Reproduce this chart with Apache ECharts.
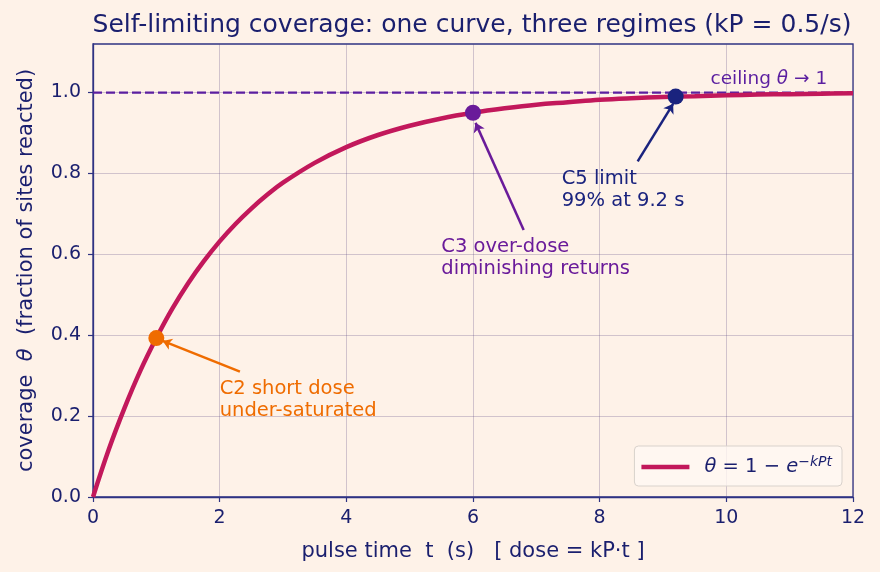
<!DOCTYPE html>
<html>
<head>
<meta charset="utf-8">
<script src="https://cdn.jsdelivr.net/npm/echarts@6/dist/echarts.min.js"></script>
<style>
  html, body { margin: 0; padding: 0; background: #fef2e8; }
  #chart { width: 880px; height: 572px; }
</style>
</head>
<body>
<div id="chart"></div>
<script>
// pulse time (s) and coverage
const pulseTimes = [0, 0.25, 0.5, 0.75, 1, 1.25, 1.5, 1.75, 2, 2.25, 2.5, 2.75, 3, 3.5, 4, 4.5, 5, 5.5, 6, 6.5, 7, 7.5, 8, 8.5, 9, 9.5, 10, 10.5, 11, 11.5, 12];
const coverage = [0, 0.118, 0.221, 0.313, 0.393, 0.465, 0.528, 0.583, 0.632, 0.675, 0.713, 0.747, 0.777, 0.826, 0.865, 0.895, 0.918, 0.936, 0.950, 0.961, 0.970, 0.976, 0.982, 0.986, 0.989, 0.991, 0.993, 0.995, 0.996, 0.997, 0.998];

// highlighted regimes
const regimeNames = ["C2", "C3", "C5"];
const regimeTimes = [1, 6, 9.2];
const regimeCoverage = [0.393, 0.950, 0.990];
const regimeColors = ["#ef6c00", "#6a1b9a", "#1a237e"];
const regimeText = ["C2 short dose\nunder-saturated", "C3 over-dose\ndiminishing returns", "C5 limit\n99% at 9.2 s"];
const textAnchors = [[2.0, 0.186], [5.5, 0.536], [7.4, 0.704]];
const arrowTails = [[2.32, 0.31], [6.8, 0.66], [8.6, 0.83]];
const arrowTips = [[1.1, 0.386], [6.04, 0.925], [9.16, 0.972]];

const ceiling = 1.0;
const xTicks = [0, 2, 4, 6, 8, 10, 12];
const yTicks = [0, 0.2, 0.4, 0.6, 0.8, 1.0];

const navy = "#1a1f6e";
const font = "DejaVu Sans";

const chart = echarts.init(document.getElementById("chart"));

const curve = pulseTimes.map((t, i) => [t, coverage[i]]);

const series = [
  {
    type: "line",
    name: "theta",
    data: [[0, ceiling], [12, ceiling]],
    symbol: "none",
    lineStyle: { color: "#5b1fa0", width: 2.3, type: [9, 4] },
    z: 2,
    silent: true
  },
  {
    type: "line",
    name: "curve",
    data: curve,
    smooth: 0.4,
    symbol: "none",
    lineStyle: { color: "#c2185b", width: 4.5 },
    itemStyle: { color: "#c2185b" },
    z: 3
  }
];

regimeNames.forEach((n, i) => {
  series.push({
    type: "lines",
    coordinateSystem: "cartesian2d",
    data: [{ coords: [arrowTails[i], arrowTips[i]] }],
    symbol: ["none", "arrow"],
    symbolSize: [0, 9],
    lineStyle: { color: regimeColors[i], width: 2.5, opacity: 1 },
    z: 4,
    silent: true
  });
  series.push({
    type: "scatter",
    data: [[regimeTimes[i], regimeCoverage[i]]],
    symbolSize: 16,
    itemStyle: { color: regimeColors[i], opacity: 1 },
    z: 5
  });
  series.push({
    type: "scatter",
    data: [textAnchors[i]],
    symbolSize: 0,
    silent: true,
    itemStyle: { opacity: 1 },
    label: {
      show: true,
      position: [0, 0],
      align: "left",
      verticalAlign: "bottom",
      formatter: regimeText[i],
      color: regimeColors[i],
      opacity: 1,
      fontFamily: font,
      fontSize: 19.5,
      lineHeight: 22
    },
    z: 6
  });
});

series.push({
  type: "scatter",
  data: [[9.75, 1.01]],
  symbolSize: 0,
  silent: true,
  itemStyle: { opacity: 1 },
  label: {
    show: true,
    position: [0, 0],
    align: "left",
    verticalAlign: "bottom",
    formatter: "ceiling {i|θ} → 1",
    color: "#5b1fa0",
    opacity: 1,
    fontFamily: font,
    fontSize: 18.5,
    rich: { i: { fontStyle: "italic", fontFamily: font, fontSize: 18.5, color: "#5b1fa0" } }
  },
  z: 6
});

chart.setOption({
  backgroundColor: "#fef2e8",
  animation: false,
  title: {
    text: "Self-limiting coverage: one curve, three regimes (kP = 0.5/s)",
    left: 467,
    textAlign: "center",
    top: 8,
    textStyle: { color: navy, fontFamily: font, fontSize: 25, fontWeight: "normal" }
  },
  grid: {
    left: 93, right: 27, top: 44, bottom: 75,
    show: true, borderColor: "#2f3383", borderWidth: 1.3, backgroundColor: "transparent"
  },
  legend: {
    data: ["curve"],
    right: 38, bottom: 86,
    orient: "vertical",
    icon: "rect",
    itemWidth: 48, itemHeight: 4.5,
    itemGap: 0,
    padding: [9, 10, 9, 7],
    backgroundColor: "rgba(255,248,242,0.8)",
    borderColor: "#d9d2cc", borderWidth: 1, borderRadius: 4,
    formatter: () => "{i|θ} = 1 − {i|e}{s|−kPt}",
    textStyle: {
      color: navy, fontFamily: font, fontSize: 19.5, padding: [0, 0, 0, 10],
      rich: {
        i: { fontStyle: "italic", fontFamily: font, fontSize: 19.5, color: navy },
        s: { fontStyle: "italic", fontFamily: font, fontSize: 14, color: navy, verticalAlign: "top", padding: [0, 0, 10, 0] }
      }
    }
  },
  xAxis: {
    type: "value",
    min: 0, max: 12, interval: 2,
    name: "pulse time  t  (s)   [ dose = kP·t ]",
    nameLocation: "middle",
    nameGap: 44,
    nameTextStyle: { color: navy, fontFamily: font, fontSize: 21 },
    axisLine: { show: true, lineStyle: { color: "#2f3383", width: 1.3 } },
    axisTick: { show: true, length: 5, lineStyle: { color: "#2f3383", width: 1.2 } },
    axisLabel: { color: navy, fontFamily: font, fontSize: 19, margin: 12, customValues: xTicks },
    splitLine: { show: true, lineStyle: { color: "rgba(90,70,130,0.27)", width: 1 } }
  },
  yAxis: {
    type: "value",
    min: 0, max: 1.12, interval: 0.2,
    name: "coverage  {i|θ}  (fraction of sites reacted)",
    nameLocation: "middle",
    nameRotate: 90,
    nameGap: 56,
    nameTextStyle: {
      color: navy, fontFamily: font, fontSize: 21,
      rich: { i: { fontStyle: "italic", fontFamily: font, fontSize: 21, color: navy } }
    },
    axisLine: { show: true, lineStyle: { color: "#2f3383", width: 1.3 } },
    axisTick: { show: true, length: 5, customValues: yTicks, lineStyle: { color: "#2f3383", width: 1.2 } },
    axisLabel: {
      color: navy, fontFamily: font, fontSize: 19, margin: 12,
      customValues: yTicks,
      formatter: v => v.toFixed(1)
    },
    splitLine: { show: true, lineStyle: { color: "rgba(90,70,130,0.27)", width: 1 } }
  },
  series: series
});
</script>
</body>
</html>
